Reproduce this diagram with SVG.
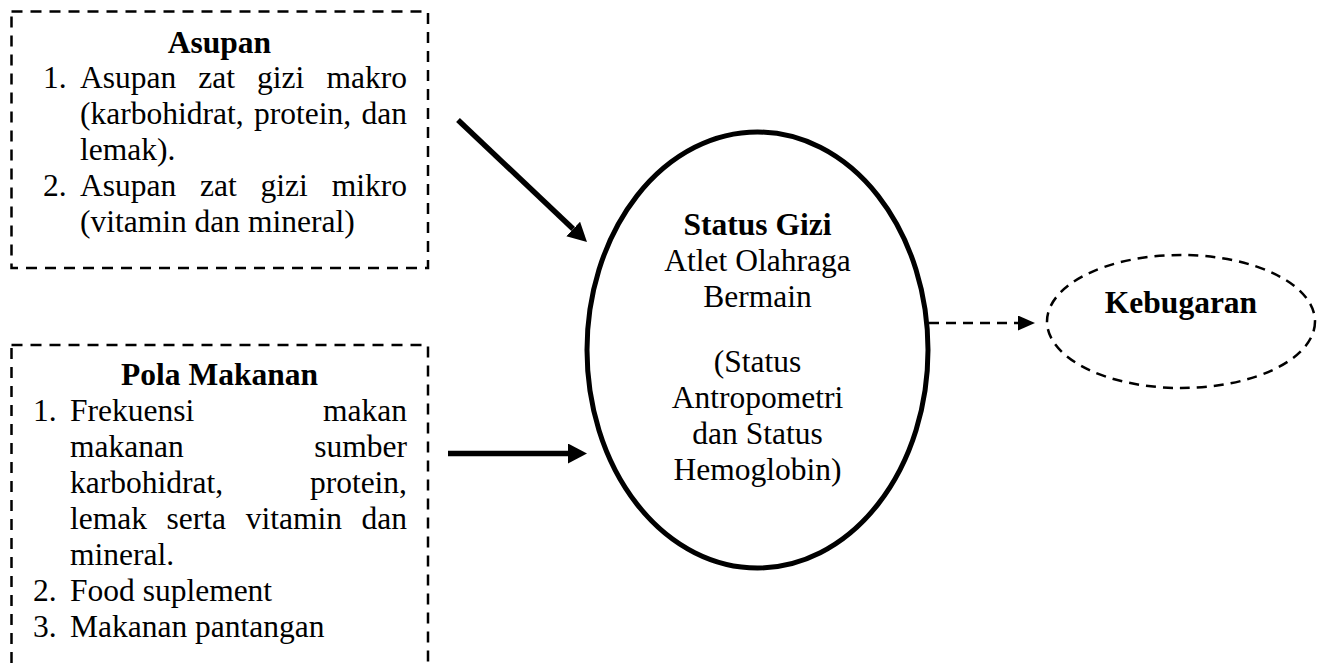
<svg xmlns="http://www.w3.org/2000/svg" width="1326" height="664" viewBox="0 0 1326 664">
  <style>
    text { font-family: "Liberation Serif", "Times New Roman", serif; font-size: 31.5px; fill: #000; }
    .b { font-weight: bold; }
    .m { text-anchor: middle; }
    .e { text-anchor: end; }
    .box { fill: none; stroke: #000; stroke-width: 2.5; stroke-dasharray: 11 8; }
    .solid { stroke: #000; stroke-width: 5.5; fill: none; }
    .dash { stroke: #000; stroke-width: 2.5; fill: none; stroke-dasharray: 10 7; }
  </style>
  <defs>
    <marker id="headBig" markerUnits="userSpaceOnUse" markerWidth="20" markerHeight="22" refX="0" refY="10" orient="auto">
      <path d="M0,0 L19,10 L0,20 Z" fill="#000"/>
    </marker>
    <marker id="headSmall" markerUnits="userSpaceOnUse" markerWidth="18" markerHeight="16" refX="0" refY="7.5" orient="auto">
      <path d="M0,0 L17,7.5 L0,15 Z" fill="#000"/>
    </marker>
  </defs>
  <rect width="1326" height="664" fill="#fff"/>

  <g id="node-asupan">
    <rect class="box" x="11.5" y="11.5" width="416.5" height="256.5"/>
    <text class="b m" x="219.5" y="53">Asupan</text>
    <text x="43" y="88">1.</text>
    <text x="80" y="88">Asupan</text>
    <text x="198.3" y="88">zat</text>
    <text x="257.1" y="88">gizi</text>
    <text class="e" x="407" y="88">makro</text>
    <text x="80" y="124">(karbohidrat,</text>
    <text x="254" y="124">protein,</text>
    <text class="e" x="407" y="124">dan</text>
    <text x="80" y="160">lemak).</text>
    <text x="43" y="196">2.</text>
    <text x="80" y="196">Asupan</text>
    <text x="200" y="196">zat</text>
    <text x="260.6" y="196">gizi</text>
    <text class="e" x="407" y="196">mikro</text>
    <text x="80" y="232">(vitamin dan mineral)</text>
  </g>

  <g id="node-pola">
    <rect class="box" x="11.5" y="345" width="416.5" height="360"/>
    <text class="b m" x="219.5" y="385">Pola Makanan</text>
    <text x="33" y="421">1.</text>
    <text x="70" y="421">Frekuensi</text>
    <text class="e" x="407" y="421">makan</text>
    <text x="70" y="457">makanan</text>
    <text class="e" x="407" y="457">sumber</text>
    <text x="70" y="493">karbohidrat,</text>
    <text class="e" x="407" y="493">protein,</text>
    <text x="70" y="529">lemak</text>
    <text x="166.6" y="529">serta</text>
    <text x="245.7" y="529">vitamin</text>
    <text class="e" x="407" y="529">dan</text>
    <text x="70" y="565">mineral.</text>
    <text x="33" y="601">2.</text>
    <text x="70" y="601">Food suplement</text>
    <text x="33" y="637">3.</text>
    <text x="70" y="637">Makanan pantangan</text>
  </g>

  <g id="node-status">
    <ellipse cx="757.5" cy="350" rx="170.5" ry="218" fill="none" stroke="#000" stroke-width="5"/>
    <text class="b m" x="757.5" y="235">Status Gizi</text>
    <text class="m" x="757.5" y="271">Atlet Olahraga</text>
    <text class="m" x="757.5" y="307">Bermain</text>
    <text class="m" x="757.5" y="372">(Status</text>
    <text class="m" x="757.5" y="408">Antropometri</text>
    <text class="m" x="757.5" y="444">dan Status</text>
    <text class="m" x="757.5" y="480">Hemoglobin)</text>
  </g>

  <g id="node-kebugaran">
    <ellipse cx="1181" cy="321.5" rx="134" ry="66.5" fill="none" stroke="#000" stroke-width="2.5" stroke-dasharray="10 7"/>
    <text class="b m" x="1181" y="313">Kebugaran</text>
  </g>

  <g id="connectors">
    <line class="solid" x1="458" y1="120" x2="573.2" y2="229" marker-end="url(#headBig)"/>
    <line class="solid" x1="448" y1="453.5" x2="568" y2="453.5" marker-end="url(#headBig)"/>
    <line class="dash" x1="929" y1="323" x2="1018" y2="323" marker-end="url(#headSmall)"/>
  </g>
</svg>
